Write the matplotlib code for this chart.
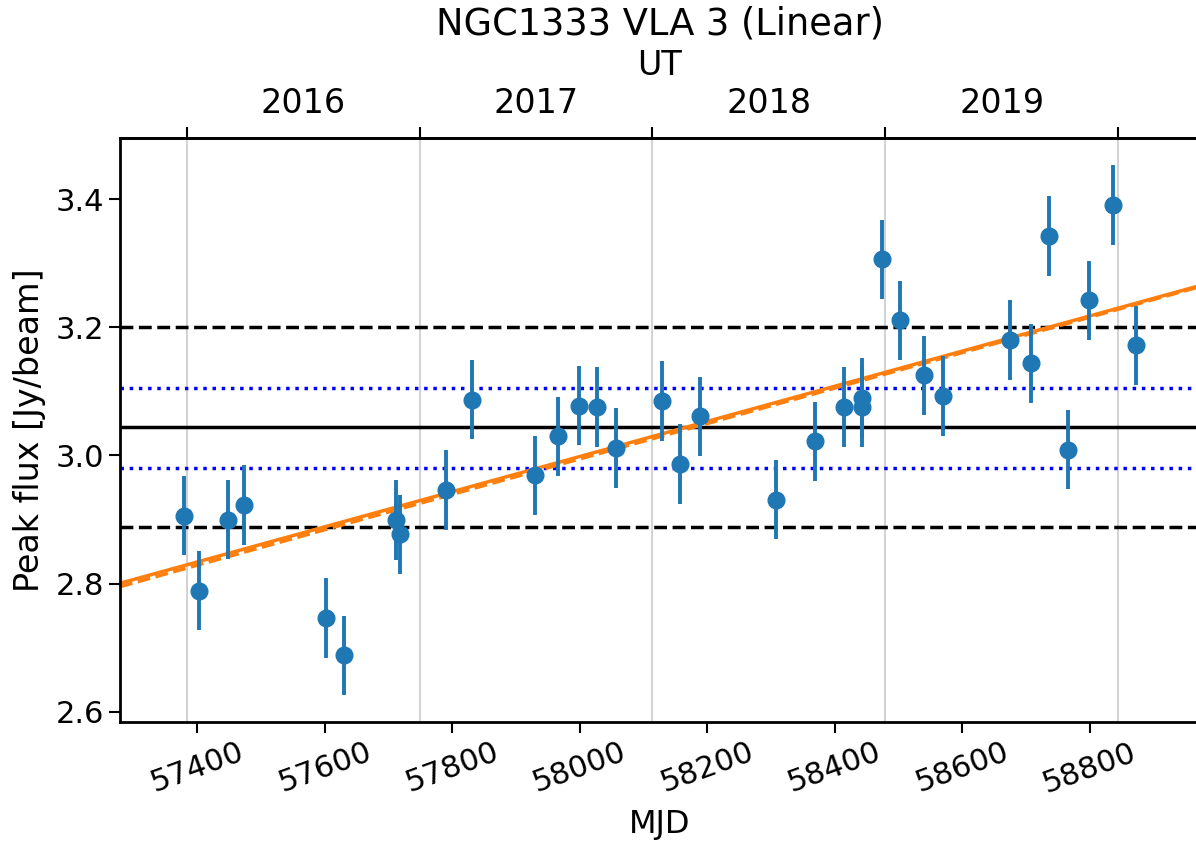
import numpy as np
import matplotlib
matplotlib.use("Agg")
import matplotlib.pyplot as plt
from matplotlib.ticker import FixedLocator, FixedFormatter, NullFormatter

# Light curve
mjd = [57378.5, 57402.5, 57447.4, 57472.6, 57602.5, 57630.6, 57711.9, 57718.6,
       57790.3, 57830.6, 57929.2, 57966.2, 57998.2, 58026.7, 58056.4, 58129.0,
       58157.4, 58188.5, 58307.6, 58369.4, 58413.9, 58442.8, 58442.8, 58473.9,
       58501.8, 58540.1, 58569.1, 58674.8, 58707.6, 58736.5, 58766.0, 58798.7,
       58836.1, 58872.3]
flux = [2.906, 2.789, 2.900, 2.923, 2.746, 2.688, 2.899, 2.877,
        2.946, 3.087, 2.969, 3.030, 3.078, 3.076, 3.012, 3.085,
        2.987, 3.061, 2.931, 3.022, 3.076, 3.090, 3.076, 3.306,
        3.211, 3.125, 3.093, 3.180, 3.144, 3.343, 3.009, 3.242,
        3.391, 3.172]
flux_err = [0.062, 0.062, 0.062, 0.062, 0.062, 0.062, 0.062, 0.062,
            0.062, 0.062, 0.062, 0.062, 0.062, 0.062, 0.062, 0.062,
            0.062, 0.062, 0.062, 0.062, 0.062, 0.062, 0.062, 0.062,
            0.062, 0.062, 0.062, 0.062, 0.062, 0.062, 0.062, 0.062,
            0.062, 0.062]

# reference levels
mean_level = 3.044
dashed_levels = [2.888, 3.2]
dotted_levels = [2.981, 3.106]

# linear fits: value at MJD 58000 and slope per day
fit_solid = (2.9984, 2.743e-4)
fit_dashed = (2.9947, 2.765e-4)

years = [2016, 2017, 2018, 2019, 2020]
year0_mjd = 57383.4  # where the top axis puts 2016.0


def mjd_to_year(x):
    return 2016 + (np.asarray(x) - year0_mjd) / 365.25


def year_to_mjd(y):
    return year0_mjd + (np.asarray(y) - 2016) * 365.25


fig = plt.figure(figsize=(11.96, 8.42), dpi=100)
ax = fig.add_axes([120 / 1196, 1 - 721.7 / 842, 1080 / 1196, (721.7 - 138.3) / 842])

xmin, xmax = 57278.7, 58973.0
ax.set_xlim(xmin, xmax)
ax.set_ylim(2.5844, 3.4952)

for yr in years:
    ax.axvline(year_to_mjd(yr), color='lightgray', lw=1.5, zorder=0)

ax.axhline(mean_level, color='black', lw=2.5)
for lvl in dashed_levels:
    ax.axhline(lvl, color='black', ls='--', lw=2.5)
for lvl in dotted_levels:
    ax.axhline(lvl, color='blue', ls=':', lw=2.5)

xx = np.array([xmin, xmax])
ax.plot(xx, fit_solid[0] + fit_solid[1] * (xx - 58000), color='C1', lw=2.5)
ax.plot(xx, fit_dashed[0] + fit_dashed[1] * (xx - 58000), color='C1', ls='--', lw=2.5)

ax.errorbar(mjd, flux, yerr=flux_err, fmt='o', color='C0', ms=12, elinewidth=2.8,
            capsize=0, zorder=3)

ax.set_xlabel('MJD', fontsize=23, labelpad=8)
ax.set_ylabel('Peak flux [Jy/beam]', fontsize=24, labelpad=7)
ax.set_yticks([2.6, 2.8, 3.0, 3.2, 3.4])
ax.set_xticks([57400, 57600, 57800, 58000, 58200, 58400, 58600, 58800])
ax.tick_params(axis='both', labelsize=22, length=8, width=1.5)
for lab in ax.get_xticklabels():
    lab.set_rotation(20)
    lab.set_ha('center')
for sp in ax.spines.values():
    sp.set_linewidth(2)

top = ax.secondary_xaxis('top', functions=(mjd_to_year, year_to_mjd))
top.xaxis.set_major_locator(FixedLocator(years))
top.xaxis.set_major_formatter(NullFormatter())
top.xaxis.set_minor_locator(FixedLocator([y - 0.5 for y in years]))
top.xaxis.set_minor_formatter(FixedFormatter([str(y - 1) for y in years]))
top.tick_params(which='major', length=8, width=1.5)
top.tick_params(which='minor', length=0, labelsize=24, pad=13)
top.spines['top'].set_linewidth(2)
top.set_xlabel('UT', fontsize=24, labelpad=8.5)

ax.set_title('NGC1333 VLA 3 (Linear)', fontsize=26.5, pad=11)

fig.savefig('out.png', dpi=100)
